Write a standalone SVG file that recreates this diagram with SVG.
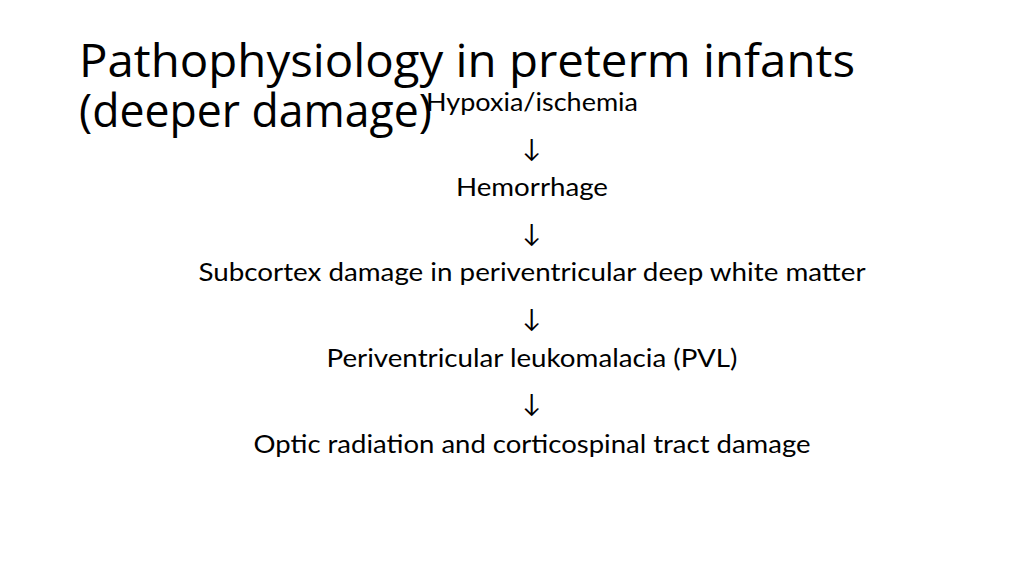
<svg xmlns="http://www.w3.org/2000/svg" width="1024" height="575" viewBox="0 0 1024 575">
<style>
.title{font-family:"Open Sans","Noto Sans",sans-serif;font-size:45px;fill:#000}
.body{font-family:Lato,"Liberation Sans",sans-serif;font-size:25px;fill:#000;text-anchor:middle}
</style>
<rect width="1024" height="575" fill="#fff"/>
<g id="title">
<text class="title" x="79" y="77" textLength="776" lengthAdjust="spacingAndGlyphs">Pathophysiology in preterm infants</text>
<text class="title" x="79" y="127" textLength="353" lengthAdjust="spacingAndGlyphs">(deeper damage)</text>
</g>
<g id="n1"><text class="body" x="532" y="111" textLength="212" lengthAdjust="spacingAndGlyphs">Hypoxia/ischemia</text></g>
<g id="n2"><text class="body" x="532" y="196" textLength="152" lengthAdjust="spacingAndGlyphs">Hemorrhage</text></g>
<g id="n3"><text class="body" x="532" y="281" textLength="667" lengthAdjust="spacingAndGlyphs">Subcortex damage in periventricular deep white matter</text></g>
<g id="n4"><text class="body" x="532" y="367" textLength="411" lengthAdjust="spacingAndGlyphs">Periventricular leukomalacia (PVL)</text></g>
<g id="n5"><text class="body" x="532" y="453" textLength="557" lengthAdjust="spacingAndGlyphs">Optic radiation and corticospinal tract damage</text></g>
<g id="connectors">
<text class="body" x="532" y="157">↓</text>
<text class="body" x="532" y="242">↓</text>
<text class="body" x="532" y="327">↓</text>
<text class="body" x="532" y="412">↓</text>
</g>
</svg>
